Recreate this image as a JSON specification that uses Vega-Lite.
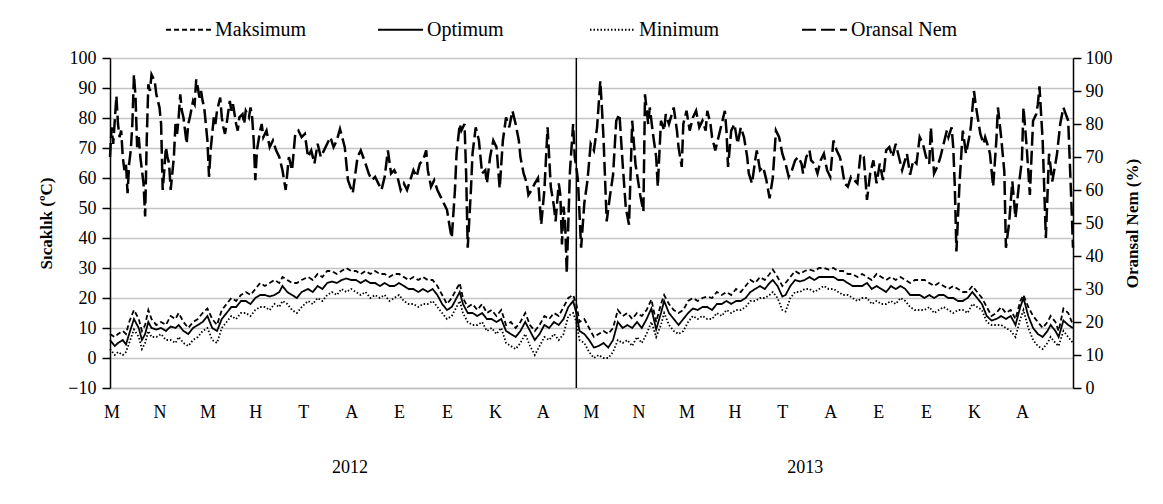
{
"$schema": "https://vega.github.io/schema/vega-lite/v6.json",
"width": 963, "height": 330,
"autosize": {"type": "none"},
"padding": {"left": 110, "top": 58, "right": 90, "bottom": 116},
"background": "white",
"config": {
  "font": "Liberation Serif",
  "view": {"stroke": null}
},
"datasets": {
  "temp": [
    {"d":0,"Maksimum":8,"Optimum":6,"Minimum":3},{"d":3,"Maksimum":7,"Optimum":4,"Minimum":1},{"d":5,"Maksimum":8,"Optimum":5,"Minimum":2},{"d":8,"Maksimum":9,"Optimum":6,"Minimum":1},{"d":10,"Maksimum":8,"Optimum":4.5,"Minimum":2},{"d":12,"Maksimum":12,"Optimum":8,"Minimum":5},{"d":15,"Maksimum":16,"Optimum":13,"Minimum":9.5},{"d":18,"Maksimum":13,"Optimum":10,"Minimum":7},{"d":20,"Maksimum":9,"Optimum":6,"Minimum":3},{"d":22,"Maksimum":11,"Optimum":8,"Minimum":5},{"d":24,"Maksimum":16,"Optimum":12,"Minimum":9},{"d":26,"Maksimum":13,"Optimum":10,"Minimum":7},{"d":29,"Maksimum":11,"Optimum":9.5,"Minimum":7},{"d":32,"Maksimum":12,"Optimum":10,"Minimum":8},{"d":35,"Maksimum":11,"Optimum":9,"Minimum":6},{"d":38,"Maksimum":14,"Optimum":10.5,"Minimum":6},{"d":41,"Maksimum":13,"Optimum":10,"Minimum":5},{"d":43,"Maksimum":15,"Optimum":11,"Minimum":7},{"d":46,"Maksimum":12,"Optimum":9,"Minimum":5},{"d":49,"Maksimum":10,"Optimum":8,"Minimum":4},{"d":52,"Maksimum":12,"Optimum":10,"Minimum":6},{"d":55,"Maksimum":13,"Optimum":11,"Minimum":7},{"d":58,"Maksimum":15,"Optimum":12,"Minimum":9},{"d":61,"Maksimum":16.5,"Optimum":14,"Minimum":10},{"d":64,"Maksimum":13,"Optimum":10,"Minimum":6},{"d":67,"Maksimum":11,"Optimum":9,"Minimum":5},{"d":70,"Maksimum":16,"Optimum":13,"Minimum":10},{"d":73,"Maksimum":18,"Optimum":15,"Minimum":12},{"d":76,"Maksimum":20,"Optimum":17,"Minimum":14},{"d":79,"Maksimum":19,"Optimum":17,"Minimum":13},{"d":82,"Maksimum":21,"Optimum":19,"Minimum":15},{"d":85,"Maksimum":22,"Optimum":19,"Minimum":15},{"d":88,"Maksimum":21,"Optimum":18,"Minimum":14},{"d":91,"Maksimum":23,"Optimum":20,"Minimum":16},{"d":94,"Maksimum":25,"Optimum":21,"Minimum":17},{"d":97,"Maksimum":24,"Optimum":21,"Minimum":17},{"d":100,"Maksimum":25,"Optimum":20.5,"Minimum":16},{"d":103,"Maksimum":26,"Optimum":21,"Minimum":18},{"d":106,"Maksimum":25,"Optimum":22,"Minimum":17},{"d":108,"Maksimum":27,"Optimum":24,"Minimum":19},{"d":111,"Maksimum":26,"Optimum":22,"Minimum":18},{"d":114,"Maksimum":25,"Optimum":21,"Minimum":16},{"d":117,"Maksimum":25,"Optimum":20,"Minimum":15},{"d":120,"Maksimum":26,"Optimum":22,"Minimum":17},{"d":124,"Maksimum":27,"Optimum":23,"Minimum":19},{"d":127,"Maksimum":26,"Optimum":22,"Minimum":18},{"d":130,"Maksimum":28,"Optimum":24,"Minimum":20},{"d":133,"Maksimum":27,"Optimum":23,"Minimum":19},{"d":136,"Maksimum":29,"Optimum":25,"Minimum":21},{"d":139,"Maksimum":29,"Optimum":25.5,"Minimum":22},{"d":142,"Maksimum":28,"Optimum":25,"Minimum":21},
    {"d":145,"Maksimum":29,"Optimum":26,"Minimum":23},{"d":148,"Maksimum":30,"Optimum":26.5,"Minimum":22},{"d":151,"Maksimum":29,"Optimum":26,"Minimum":23},{"d":154,"Maksimum":29,"Optimum":26,"Minimum":22},{"d":157,"Maksimum":28,"Optimum":25,"Minimum":21},{"d":160,"Maksimum":29,"Optimum":26,"Minimum":22},{"d":163,"Maksimum":28,"Optimum":25,"Minimum":20},{"d":166,"Maksimum":29,"Optimum":25,"Minimum":21},{"d":169,"Maksimum":28,"Optimum":24,"Minimum":20},{"d":172,"Maksimum":28,"Optimum":25,"Minimum":21},{"d":175,"Maksimum":27,"Optimum":24,"Minimum":19},{"d":178,"Maksimum":28,"Optimum":24,"Minimum":20},{"d":181,"Maksimum":28,"Optimum":25,"Minimum":21},{"d":184,"Maksimum":27,"Optimum":24,"Minimum":19},{"d":187,"Maksimum":26,"Optimum":23,"Minimum":18},{"d":190,"Maksimum":27,"Optimum":23,"Minimum":18},{"d":193,"Maksimum":26,"Optimum":22,"Minimum":17},{"d":196,"Maksimum":27,"Optimum":23,"Minimum":18},{"d":199,"Maksimum":26,"Optimum":22,"Minimum":18},{"d":202,"Maksimum":26,"Optimum":23,"Minimum":19},{"d":205,"Maksimum":24,"Optimum":21,"Minimum":17},{"d":208,"Maksimum":21,"Optimum":18,"Minimum":15},{"d":211,"Maksimum":18,"Optimum":16,"Minimum":13},{"d":214,"Maksimum":20,"Optimum":17,"Minimum":14},{"d":217,"Maksimum":23,"Optimum":20,"Minimum":17},{"d":219,"Maksimum":25,"Optimum":22,"Minimum":19},{"d":221,"Maksimum":20,"Optimum":18,"Minimum":15},{"d":224,"Maksimum":17,"Optimum":15,"Minimum":12},{"d":227,"Maksimum":18,"Optimum":15,"Minimum":11},{"d":230,"Maksimum":16,"Optimum":14,"Minimum":11},{"d":233,"Maksimum":18,"Optimum":15,"Minimum":12},{"d":236,"Maksimum":15,"Optimum":13,"Minimum":9},{"d":239,"Maksimum":16,"Optimum":13,"Minimum":10},{"d":242,"Maksimum":14,"Optimum":12,"Minimum":8},{"d":245,"Maksimum":16,"Optimum":13,"Minimum":10},{"d":248,"Maksimum":11,"Optimum":9,"Minimum":5},{"d":251,"Maksimum":12,"Optimum":8,"Minimum":4},{"d":254,"Maksimum":10,"Optimum":7,"Minimum":3},{"d":257,"Maksimum":12,"Optimum":9,"Minimum":5},{"d":260,"Maksimum":15,"Optimum":12,"Minimum":8},{"d":263,"Maksimum":11,"Optimum":9,"Minimum":4},{"d":266,"Maksimum":9,"Optimum":6,"Minimum":1},{"d":269,"Maksimum":11,"Optimum":8,"Minimum":4},{"d":272,"Maksimum":14,"Optimum":11,"Minimum":7},{"d":275,"Maksimum":13,"Optimum":10,"Minimum":6},{"d":278,"Maksimum":15,"Optimum":12,"Minimum":8},{"d":281,"Maksimum":14,"Optimum":11,"Minimum":6},{"d":284,"Maksimum":17,"Optimum":13,"Minimum":8},{"d":287,"Maksimum":20,"Optimum":17,"Minimum":14},{"d":290,"Maksimum":21,"Optimum":19,"Minimum":15},{"d":292,"Maksimum":18,"Optimum":15,"Minimum":12},
    {"d":294,"Maksimum":12,"Optimum":9,"Minimum":6},{"d":297,"Maksimum":13,"Optimum":8,"Minimum":5},{"d":300,"Maksimum":10,"Optimum":6,"Minimum":2},{"d":303,"Maksimum":7,"Optimum":3.5,"Minimum":0},{"d":306,"Maksimum":8,"Optimum":4,"Minimum":1},{"d":309,"Maksimum":9,"Optimum":5,"Minimum":0},{"d":312,"Maksimum":8,"Optimum":3.5,"Minimum":0},{"d":315,"Maksimum":10,"Optimum":6,"Minimum":2},{"d":318,"Maksimum":16,"Optimum":12,"Minimum":6},{"d":321,"Maksimum":14,"Optimum":10,"Minimum":5},{"d":324,"Maksimum":15,"Optimum":11,"Minimum":6},{"d":327,"Maksimum":13,"Optimum":10,"Minimum":4},{"d":330,"Maksimum":15,"Optimum":12,"Minimum":7},{"d":333,"Maksimum":14,"Optimum":10,"Minimum":5},{"d":336,"Maksimum":16,"Optimum":13,"Minimum":8},{"d":339,"Maksimum":19.5,"Optimum":16.5,"Minimum":12},{"d":342,"Maksimum":12,"Optimum":9.5,"Minimum":7},{"d":345,"Maksimum":18,"Optimum":15,"Minimum":11},{"d":347,"Maksimum":21,"Optimum":19,"Minimum":15},{"d":350,"Maksimum":18,"Optimum":15,"Minimum":11},{"d":353,"Maksimum":16,"Optimum":13,"Minimum":9},{"d":356,"Maksimum":15,"Optimum":11,"Minimum":8},{"d":359,"Maksimum":16,"Optimum":13,"Minimum":9},{"d":362,"Maksimum":19,"Optimum":15,"Minimum":12},{"d":365,"Maksimum":20,"Optimum":16.5,"Minimum":14},{"d":368,"Maksimum":19,"Optimum":16,"Minimum":13},{"d":371,"Maksimum":20,"Optimum":17,"Minimum":14},{"d":374,"Maksimum":20.5,"Optimum":17,"Minimum":13},{"d":377,"Maksimum":20,"Optimum":16,"Minimum":13},{"d":380,"Maksimum":22,"Optimum":18,"Minimum":15},{"d":383,"Maksimum":21,"Optimum":18,"Minimum":14},{"d":386,"Maksimum":22,"Optimum":19,"Minimum":16},{"d":389,"Maksimum":21,"Optimum":18,"Minimum":15},{"d":392,"Maksimum":23,"Optimum":19,"Minimum":16},{"d":395,"Maksimum":22,"Optimum":19,"Minimum":16},{"d":398,"Maksimum":24,"Optimum":20,"Minimum":17},{"d":401,"Maksimum":26,"Optimum":22,"Minimum":19},{"d":404,"Maksimum":25,"Optimum":23,"Minimum":19},{"d":407,"Maksimum":27,"Optimum":24,"Minimum":20},{"d":410,"Maksimum":26,"Optimum":23,"Minimum":20},{"d":413,"Maksimum":28,"Optimum":25,"Minimum":21},{"d":415,"Maksimum":29.5,"Optimum":26,"Minimum":22},{"d":418,"Maksimum":27,"Optimum":24,"Minimum":20},{"d":421,"Maksimum":24,"Optimum":20.5,"Minimum":16},{"d":423,"Maksimum":25,"Optimum":21,"Minimum":15.5},{"d":426,"Maksimum":27,"Optimum":24,"Minimum":20},{"d":429,"Maksimum":29,"Optimum":26,"Minimum":22},{"d":432,"Maksimum":28,"Optimum":25.5,"Minimum":22},{"d":435,"Maksimum":29,"Optimum":26,"Minimum":23},{"d":438,"Maksimum":29.5,"Optimum":27,"Minimum":23},{"d":441,"Maksimum":29,"Optimum":26,"Minimum":22},{"d":444,"Maksimum":30,"Optimum":27,"Minimum":23},{"d":447,"Maksimum":30,"Optimum":27,"Minimum":24},{"d":450,"Maksimum":29.5,"Optimum":27,"Minimum":23},
    {"d":453,"Maksimum":30,"Optimum":27,"Minimum":23},{"d":456,"Maksimum":29,"Optimum":26,"Minimum":22},{"d":459,"Maksimum":29,"Optimum":26,"Minimum":21},{"d":462,"Maksimum":28,"Optimum":25,"Minimum":21},{"d":465,"Maksimum":28,"Optimum":24,"Minimum":20},{"d":468,"Maksimum":27,"Optimum":24,"Minimum":19},{"d":471,"Maksimum":28,"Optimum":24,"Minimum":20},{"d":474,"Maksimum":27,"Optimum":25,"Minimum":20},{"d":477,"Maksimum":26,"Optimum":23,"Minimum":18},{"d":480,"Maksimum":28,"Optimum":24,"Minimum":19},{"d":483,"Maksimum":27,"Optimum":23,"Minimum":18},{"d":486,"Maksimum":26,"Optimum":22,"Minimum":18},{"d":489,"Maksimum":27,"Optimum":24,"Minimum":19},{"d":492,"Maksimum":26,"Optimum":23,"Minimum":18},{"d":495,"Maksimum":27,"Optimum":24,"Minimum":20},{"d":498,"Maksimum":26,"Optimum":23,"Minimum":19},{"d":501,"Maksimum":25,"Optimum":21,"Minimum":17},{"d":504,"Maksimum":26,"Optimum":21,"Minimum":16},{"d":507,"Maksimum":26,"Optimum":21,"Minimum":16},{"d":510,"Maksimum":26,"Optimum":20,"Minimum":16},{"d":513,"Maksimum":25,"Optimum":21,"Minimum":17},{"d":516,"Maksimum":24,"Optimum":20,"Minimum":15},{"d":519,"Maksimum":25,"Optimum":21,"Minimum":16},{"d":522,"Maksimum":24,"Optimum":21,"Minimum":17},{"d":525,"Maksimum":23,"Optimum":20,"Minimum":16},{"d":528,"Maksimum":24,"Optimum":20,"Minimum":15},{"d":531,"Maksimum":23,"Optimum":19,"Minimum":16},{"d":534,"Maksimum":22,"Optimum":19,"Minimum":16},{"d":537,"Maksimum":22,"Optimum":20,"Minimum":15},{"d":540,"Maksimum":24,"Optimum":22,"Minimum":18},{"d":543,"Maksimum":22,"Optimum":20,"Minimum":17},{"d":546,"Maksimum":20,"Optimum":18,"Minimum":16},{"d":549,"Maksimum":17,"Optimum":14,"Minimum":12},{"d":552,"Maksimum":14,"Optimum":12.5,"Minimum":11},{"d":555,"Maksimum":15,"Optimum":13,"Minimum":11},{"d":558,"Maksimum":17,"Optimum":14,"Minimum":11},{"d":561,"Maksimum":15,"Optimum":13,"Minimum":10},{"d":564,"Maksimum":16,"Optimum":14,"Minimum":9},{"d":567,"Maksimum":13,"Optimum":11,"Minimum":7},{"d":570,"Maksimum":19,"Optimum":17,"Minimum":13},{"d":572,"Maksimum":21,"Optimum":20,"Minimum":16},{"d":575,"Maksimum":17,"Optimum":14,"Minimum":10},{"d":578,"Maksimum":14,"Optimum":10,"Minimum":6},{"d":581,"Maksimum":12,"Optimum":8,"Minimum":4},{"d":584,"Maksimum":10,"Optimum":7,"Minimum":3},{"d":587,"Maksimum":12,"Optimum":9,"Minimum":5},{"d":589,"Maksimum":14,"Optimum":11,"Minimum":7},{"d":592,"Maksimum":12,"Optimum":9,"Minimum":5},{"d":594,"Maksimum":9,"Optimum":7,"Minimum":4},{"d":597,"Maksimum":16.5,"Optimum":12.5,"Minimum":9},{"d":600,"Maksimum":15,"Optimum":11,"Minimum":7},{"d":603,"Maksimum":11,"Optimum":10,"Minimum":5}
  ],
  "nem": [
    {"d":0,"h":70},{"d":1,"h":79},{"d":2,"h":74},{"d":3,"h":81},{"d":4,"h":88.5},{"d":5,"h":80},{"d":6,"h":76},{"d":7,"h":78},{"d":8,"h":70},{"d":9,"h":66},{"d":10,"h":68},{"d":11,"h":59},{"d":12,"h":68},{"d":13,"h":72},{"d":14,"h":80},{"d":15,"h":95},{"d":16,"h":88},{"d":17,"h":73},{"d":18,"h":76},{"d":19,"h":70},{"d":20,"h":66},{"d":21,"h":62},{"d":22,"h":52},{"d":23,"h":75},{"d":24,"h":92},{"d":25,"h":90},{"d":26,"h":95},{"d":27,"h":94},{"d":28,"h":93},{"d":29,"h":89},{"d":31,"h":85},{"d":32,"h":80},{"d":33,"h":60},{"d":34,"h":66},{"d":35,"h":73},{"d":36,"h":70},{"d":37,"h":68},{"d":38,"h":60},{"d":40,"h":70},{"d":41,"h":80},{"d":42,"h":77},{"d":43,"h":82},{"d":44,"h":89},{"d":45,"h":84},{"d":46,"h":82},{"d":47,"h":78},{"d":48,"h":74},{"d":49,"h":80},{"d":50,"h":82},{"d":52,"h":87},{"d":53,"h":86},{"d":54,"h":93.5},{"d":55,"h":91},{"d":56,"h":88},{"d":57,"h":90},{"d":58,"h":87},{"d":59,"h":85},{"d":60,"h":80},{"d":61,"h":75},{"d":62,"h":64},{"d":63,"h":72},{"d":65,"h":82},{"d":66,"h":80},{"d":67,"h":84},{"d":69,"h":88},{"d":70,"h":82},{"d":71,"h":79},{"d":72,"h":77},{"d":73,"h":80},{"d":75,"h":87},{"d":76,"h":84},{"d":77,"h":86},{"d":79,"h":80},{"d":80,"h":78},{"d":81,"h":82},{"d":83,"h":83},{"d":84,"h":80},{"d":85,"h":84},{"d":87,"h":82},{"d":88,"h":85},{"d":89,"h":82},{"d":90,"h":75},{"d":91,"h":63},{"d":92,"h":72},{"d":94,"h":78},{"d":95,"h":80},{"d":96,"h":76},{"d":98,"h":78},{"d":100,"h":73},{"d":102,"h":75},{"d":104,"h":72},{"d":106,"h":70},{"d":108,"h":66},{"d":110,"h":60},{"d":111,"h":65},{"d":112,"h":70},{"d":114,"h":66},{"d":116,"h":77},{"d":118,"h":78},{"d":120,"h":76},{"d":122,"h":77},{"d":124,"h":70},{"d":126,"h":72},{"d":128,"h":68},{"d":130,"h":74},{"d":132,"h":70},{"d":134,"h":72},{"d":136,"h":74},{"d":138,"h":76},{"d":140,"h":73},{"d":142,"h":75},{"d":144,"h":78.5},{"d":147,"h":73},{"d":149,"h":63},{"d":152,"h":59},{"d":155,"h":70},{"d":157,"h":72},{"d":160,"h":68},{"d":162,"h":65},{"d":164,"h":63},{"d":166,"h":64},{"d":168,"h":62},{"d":170,"h":60},{"d":172,"h":64},{"d":174,"h":72},{"d":176,"h":65},{"d":178,"h":66},{"d":180,"h":64},{"d":182,"h":60},{"d":184,"h":62},{"d":186,"h":60},{"d":188,"h":63},{"d":190,"h":66},{"d":192,"h":64},{"d":194,"h":68},{"d":196,"h":69},{"d":198,"h":72},{"d":199,"h":66},{"d":201,"h":61},{"d":203,"h":63},{"d":205,"h":60},{"d":207,"h":58},{"d":209,"h":56},{"d":211,"h":54},{"d":213,"h":48},{"d":214,"h":45.5},{"d":216,"h":60},{"d":217,"h":71},{"d":219,"h":80},{"d":220,"h":78},{"d":222,"h":80},{"d":223,"h":65},{"d":224,"h":42.5},{"d":226,"h":60},{"d":227,"h":71},{"d":229,"h":79},{"d":231,"h":75},{"d":233,"h":65},{"d":235,"h":66},{"d":236,"h":62},{"d":238,"h":70},{"d":240,"h":75},{"d":242,"h":73},{"d":244,"h":60.5},{"d":246,"h":75},{"d":248,"h":82},{"d":250,"h":79},{"d":252,"h":84},{"d":254,"h":80},{"d":256,"h":75},{"d":257,"h":70},{"d":259,"h":65},{"d":261,"h":62},{"d":262,"h":58.5},{"d":264,"h":60},{"d":266,"h":62},{"d":268,"h":63.6},{"d":270,"h":49.5},{"d":272,"h":60},{"d":274,"h":79},{"d":276,"h":61},{"d":278,"h":55},{"d":279,"h":50.5},{"d":281,"h":62},{"d":282,"h":58.5},{"d":283,"h":43.5},{"d":284,"h":55},{"d":285,"h":50},{"d":286,"h":34.8},{"d":288,"h":65.6},{"d":290,"h":80},{"d":291,"h":70},{"d":292,"h":67},
    {"d":293,"h":63},{"d":295,"h":42.5},{"d":297,"h":56},{"d":299,"h":63},{"d":301,"h":74},{"d":303,"h":72},{"d":305,"h":79},{"d":307,"h":93},{"d":308,"h":85},{"d":309,"h":76},{"d":311,"h":50.5},{"d":313,"h":58},{"d":315,"h":64.6},{"d":317,"h":81},{"d":319,"h":83},{"d":321,"h":68},{"d":323,"h":54.5},{"d":325,"h":49.5},{"d":327,"h":81},{"d":329,"h":68},{"d":332,"h":58.5},{"d":334,"h":53.5},{"d":335,"h":89},{"d":337,"h":80},{"d":338,"h":85},{"d":340,"h":77},{"d":342,"h":70},{"d":343,"h":61},{"d":345,"h":81},{"d":347,"h":78},{"d":348,"h":83},{"d":350,"h":80},{"d":353,"h":85},{"d":355,"h":78},{"d":356,"h":73},{"d":358,"h":67},{"d":359,"h":80},{"d":361,"h":84},{"d":363,"h":78},{"d":365,"h":82},{"d":367,"h":84},{"d":369,"h":79},{"d":371,"h":81},{"d":373,"h":78},{"d":374,"h":84},{"d":376,"h":80},{"d":377,"h":76},{"d":379,"h":72},{"d":381,"h":76},{"d":383,"h":80},{"d":385,"h":84},{"d":386,"h":78},{"d":387,"h":67},{"d":389,"h":78},{"d":391,"h":80},{"d":393,"h":74},{"d":395,"h":79},{"d":397,"h":76},{"d":399,"h":70},{"d":400,"h":65},{"d":402,"h":62},{"d":404,"h":69},{"d":405,"h":72},{"d":407,"h":66},{"d":409,"h":67},{"d":411,"h":63},{"d":413,"h":57.5},{"d":415,"h":63.6},{"d":417,"h":78},{"d":419,"h":76},{"d":421,"h":71},{"d":423,"h":68},{"d":425,"h":64},{"d":427,"h":66},{"d":429,"h":69},{"d":431,"h":70},{"d":433,"h":68},{"d":434,"h":65},{"d":436,"h":70},{"d":438,"h":72},{"d":439,"h":69},{"d":441,"h":68},{"d":443,"h":65},{"d":445,"h":69},{"d":447,"h":71},{"d":449,"h":66},{"d":451,"h":64},{"d":453,"h":75},{"d":455,"h":72},{"d":457,"h":70},{"d":458,"h":68},{"d":460,"h":62},{"d":462,"h":61},{"d":464,"h":64},{"d":466,"h":63},{"d":468,"h":62},{"d":470,"h":71},{"d":472,"h":70},{"d":474,"h":57},{"d":476,"h":65},{"d":478,"h":69},{"d":480,"h":62},{"d":482,"h":68},{"d":484,"h":63},{"d":486,"h":72},{"d":488,"h":73},{"d":490,"h":70},{"d":492,"h":74},{"d":494,"h":70},{"d":496,"h":66},{"d":499,"h":71},{"d":501,"h":64.6},{"d":503,"h":69},{"d":505,"h":68},{"d":507,"h":76},{"d":509,"h":74},{"d":511,"h":70},{"d":513,"h":68},{"d":514,"h":79},{"d":516,"h":65},{"d":518,"h":67},{"d":520,"h":70},{"d":522,"h":74},{"d":524,"h":78},{"d":525,"h":76},{"d":527,"h":79},{"d":528,"h":73},{"d":529,"h":61},{"d":530,"h":41.4},{"d":531,"h":52},{"d":532,"h":62.6},{"d":534,"h":78},{"d":536,"h":71},{"d":538,"h":76},{"d":539,"h":79},{"d":541,"h":90},{"d":542,"h":86},{"d":543,"h":83},{"d":545,"h":77},{"d":547,"h":74},{"d":548,"h":76},{"d":550,"h":73},{"d":551,"h":71},{"d":552,"h":66},{"d":553,"h":61},{"d":555,"h":75},{"d":556,"h":85},{"d":558,"h":76},{"d":560,"h":65.6},{"d":561,"h":42.5},{"d":563,"h":50},{"d":565,"h":62.6},{"d":567,"h":51.5},{"d":569,"h":61},{"d":571,"h":69},{"d":572,"h":85},{"d":574,"h":73},{"d":576,"h":58.5},{"d":578,"h":81},{"d":580,"h":83},{"d":581,"h":86},{"d":582,"h":91.4},{"d":584,"h":75},{"d":586,"h":45.5},{"d":588,"h":71},{"d":590,"h":62.6},{"d":592,"h":68},{"d":593,"h":71},{"d":595,"h":80},{"d":597,"h":85},{"d":600,"h":81},{"d":602,"h":56},{"d":603,"h":42.5}
  ],
  "ayrac": [{"d": 292}]
},
"layer": [
  {
    "layer": [
      {
        "data": {"name": "temp"},
        "transform": [{"fold": ["Maksimum", "Optimum", "Minimum"], "as": ["seri", "deger"]}],
        "mark": {"type": "line", "color": "black", "strokeWidth": 1.8},
        "encoding": {
          "x": {"field": "d", "type": "quantitative", "scale": {"domain": [0, 603], "nice": false, "zero": false},
                "axis": {"orient": "bottom", "values": [1,31,61,91,121,151,181,211,241,271,301,331,361,391,421,451,481,511,541,571], "labelExpr": "['M','N','M','H','T','A','E','E','K','A'][floor(datum.value/30)%10]", "ticks": false, "grid": false, "domainColor": "#bfbfbf", "domainWidth": 1.5, "labelPadding": 15, "labelFontSize": 18, "labelFont": "Liberation Serif", "labelColor": "black", "title": null}},
          "y": {"field": "deger", "type": "quantitative", "scale": {"domain": [-10, 100], "nice": false, "zero": false},
                "axis": {"values": [-10,0,10,20,30,40,50,60,70,80,90,100], "grid": true, "gridColor": "#c4c4c4", "gridWidth": 1.5, "domainColor": "black", "domainWidth": 1.5, "tickColor": "black", "tickSize": 8, "tickWidth": 1.5, "labelPadding": 6, "labelFontSize": 18, "labelFont": "Liberation Serif", "labelColor": "black", "title": "Sıcaklık (ºC)", "titleFont": "Liberation Serif", "titleFontSize": 17, "titleFontWeight": "bold", "titleColor": "black", "titlePadding": 12}},
          "strokeDash": {"field": "seri", "type": "nominal", "scale": {"domain": ["Maksimum", "Optimum", "Minimum", "Oransal Nem"], "range": [[5,3],[1,0],[1.5,2],[14,5]]},
                "legend": {"orient": "none", "legendX": 55, "legendY": -52, "direction": "horizontal", "title": null, "symbolType": "stroke", "symbolSize": 2025, "symbolStrokeColor": "black", "symbolStrokeWidth": 2, "labelFont": "Liberation Serif", "labelFontSize": 20, "labelColor": "black", "labelOffset": 3, "columnPadding": 52, "gridAlign": "all", "labelLimit": 300}}
        }
      },
      {
        "data": {"name": "ayrac"},
        "mark": {"type": "rule", "color": "black", "strokeWidth": 1.5},
        "encoding": {"x": {"field": "d", "type": "quantitative", "scale": {"domain": [0, 603], "nice": false, "zero": false},
                "axis": {"orient": "bottom", "values": [1,31,61,91,121,151,181,211,241,271,301,331,361,391,421,451,481,511,541,571], "labelExpr": "['M','N','M','H','T','A','E','E','K','A'][floor(datum.value/30)%10]", "ticks": false, "grid": false, "domainColor": "#bfbfbf", "domainWidth": 1.5, "labelPadding": 15, "labelFontSize": 18, "labelFont": "Liberation Serif", "labelColor": "black", "title": null}}}
      }
    ]
  },
  {
    "data": {"name": "nem"},
    "mark": {"type": "line", "color": "black", "strokeWidth": 2.5},
    "encoding": {
      "x": {"field": "d", "type": "quantitative", "scale": {"domain": [0, 603], "nice": false, "zero": false},
            "axis": {"orient": "bottom", "values": [150, 435], "labelExpr": "datum.value < 300 ? '2012' : '2013'", "ticks": false, "domain": false, "grid": false, "labelPadding": 70, "labelFontSize": 18, "labelFont": "Liberation Serif", "labelColor": "black", "title": null}},
      "y": {"field": "h", "type": "quantitative", "scale": {"domain": [0, 100], "nice": false, "zero": false},
            "axis": {"orient": "right", "values": [0,10,20,30,40,50,60,70,80,90,100], "grid": false, "domainColor": "black", "domainWidth": 1.5, "tickColor": "black", "tickSize": 8, "tickWidth": 1.5, "labelPadding": 4, "labelFontSize": 18, "labelFont": "Liberation Serif", "labelColor": "black", "title": "Oransal Nem (%)", "titleAngle": 270, "titleBaseline": "top", "titleFont": "Liberation Serif", "titleFontSize": 17, "titleFontWeight": "bold", "titleColor": "black", "titlePadding": 12}},
      "strokeDash": {"datum": "Oransal Nem", "type": "nominal", "scale": {"domain": ["Maksimum", "Optimum", "Minimum", "Oransal Nem"], "range": [[5,3],[1,0],[1.5,2],[14,5]]}}
    }
  }
],
"resolve": {"scale": {"y": "independent"}, "axis": {"x": "independent"}}
}
